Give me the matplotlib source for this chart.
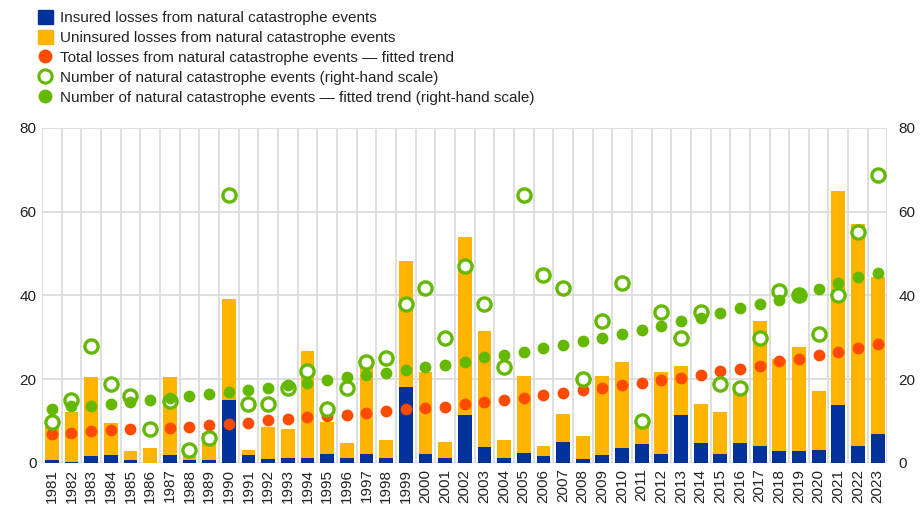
import matplotlib
matplotlib.use("Agg")
import matplotlib.pyplot as plt
from matplotlib.lines import Line2D
from matplotlib.patches import Patch
import numpy as np

plt.rcParams["font.family"] = ["Liberation Sans", "DejaVu Sans"]

years = [str(y) for y in range(1981, 2024)]

insured = [0.6, 0.2, 1.6, 1.9, 0.6, 0.1, 1.9, 0.6, 0.6, 15.0,
           1.9, 1.0, 1.3, 1.3, 2.1, 1.3, 2.1, 1.3, 18.2, 2.1,
           1.3, 11.5, 3.8, 1.3, 2.5, 1.6, 5.1, 1.0, 1.9, 3.5,
           4.5, 2.2, 11.5, 4.8, 2.2, 4.8, 4.1, 2.9, 2.9, 3.2,
           13.8, 4.1, 7.0]
total_losses = [10.0, 12.2, 20.5, 9.6, 2.9, 3.6, 20.5, 2.2, 7.1, 39.2,
                3.2, 8.6, 8.0, 26.8, 9.9, 4.8, 23.1, 5.4, 48.1, 21.7,
                5.1, 53.9, 31.6, 5.4, 20.7, 4.1, 11.8, 6.4, 20.7, 24.2,
                9.3, 21.7, 23.2, 14.0, 12.1, 18.8, 33.8, 24.8, 27.7, 17.2,
                65.0, 57.0, 44.3]
uninsured = [t - i for t, i in zip(total_losses, insured)]

losses_trend = [6.9, 7.2, 7.6, 7.8, 8.1, 8.1, 8.4, 8.6, 9.1, 9.3,
                9.6, 10.2, 10.5, 10.9, 11.1, 11.4, 11.9, 12.3, 12.9, 13.1,
                13.4, 14.0, 14.6, 15.0, 15.5, 16.2, 16.7, 17.3, 17.8, 18.5,
                19.1, 19.7, 20.3, 20.9, 21.9, 22.5, 23.2, 24.3, 24.8, 25.7,
                26.6, 27.5, 28.4]
events = [9.8, 15.1, 27.9, 18.9, 16.1, 8.2, 14.8, 3.0, 6.0, 64.0,
          14.1, 14.1, 17.9, 21.9, 13.0, 17.9, 24.0, 25.1, 38.0, 41.8,
          29.9, 47.0, 38.0, 22.9, 64.0, 44.9, 41.8, 20.1, 33.8, 43.0,
          10.0, 36.0, 29.9, 36.0, 18.9, 17.9, 29.9, 41.0, 40.1, 30.8,
          40.1, 55.0, 68.8]
events_trend = [13.0, 13.5, 13.7, 14.0, 14.5, 15.0, 15.4, 15.9, 16.5, 17.0,
                17.4, 17.9, 18.6, 19.1, 19.7, 20.4, 20.9, 21.5, 22.2, 22.9,
                23.5, 24.1, 25.2, 25.7, 26.6, 27.5, 28.1, 29.0, 29.9, 30.7,
                31.7, 32.8, 33.8, 34.6, 35.8, 37.1, 37.9, 39.0, 40.0, 41.6,
                43.0, 44.3, 45.4]

BLUE = "#003299"
YELLOW = "#FFB400"
RED = "#FF4B00"
GREEN = "#65B800"
GRID = "#d9d9d9"
TXT = "#222222"

fig = plt.figure(figsize=(9.21, 5.08), dpi=100)
ax = fig.add_axes([0.0456, 0.0886, 0.918, 0.66])
x = np.arange(len(years))

ax.bar(x, insured, width=0.7, color=BLUE, zorder=2)
ax.bar(x, uninsured, width=0.7, bottom=insured, color=YELLOW, zorder=2)
ax.plot(x, losses_trend, "o", color=RED, ms=8.5, mec="none", zorder=4)

ax.set_xlim(-0.5, len(years) - 0.5)
ax.set_ylim(0, 80)
ax.set_yticks([0, 20, 40, 60, 80])
ax.set_xticks(x)
ax.set_xticklabels(years, rotation=90)
ax.set_xticks(np.arange(-0.5, len(years), 1), minor=True)
ax.grid(axis="y", color=GRID, lw=1.2, zorder=0)
ax.grid(axis="x", which="minor", color=GRID, lw=1.2, zorder=0)
ax.set_axisbelow(True)
ax.tick_params(axis="both", which="both", length=0, labelsize=11, colors=TXT, pad=4)
for s in ax.spines.values():
    s.set_visible(False)

ax2 = ax.twinx()
ax2.set_ylim(0, 80)
ax2.set_yticks([0, 20, 40, 60, 80])
ax2.plot(x, events, "o", mfc="white", mec=GREEN, mew=2.4, ms=9.5, zorder=5)
ax2.plot(x, events_trend, "o", color=GREEN, ms=8.5, mec="none", zorder=6)
ax2.tick_params(axis="y", length=0, labelsize=11, colors=TXT, pad=8)
for s in ax2.spines.values():
    s.set_visible(False)

handles = [
    Patch(color=BLUE),
    Patch(color=YELLOW),
    Line2D([], [], ls="none", marker="o", color=RED, mec="none", ms=10),
    Line2D([], [], ls="none", marker="o", mfc="white", mec=GREEN, mew=2.2, ms=9.5),
    Line2D([], [], ls="none", marker="o", color=GREEN, mec="none", ms=10),
]
labels = [
    "Insured losses from natural catastrophe events",
    "Uninsured losses from natural catastrophe events",
    "Total losses from natural catastrophe events \u2014 fitted trend",
    "Number of natural catastrophe events (right-hand scale)",
    "Number of natural catastrophe events \u2014 fitted trend (right-hand scale)",
]
fig.legend(handles, labels, loc="upper left", bbox_to_anchor=(0.03, 1.0),
           frameon=False, fontsize=11, handlelength=1.0, handleheight=1.0,
           handletextpad=0.5, labelspacing=0.32, borderaxespad=0.25,
           labelcolor=TXT)

fig.savefig("out.png", dpi=100)
